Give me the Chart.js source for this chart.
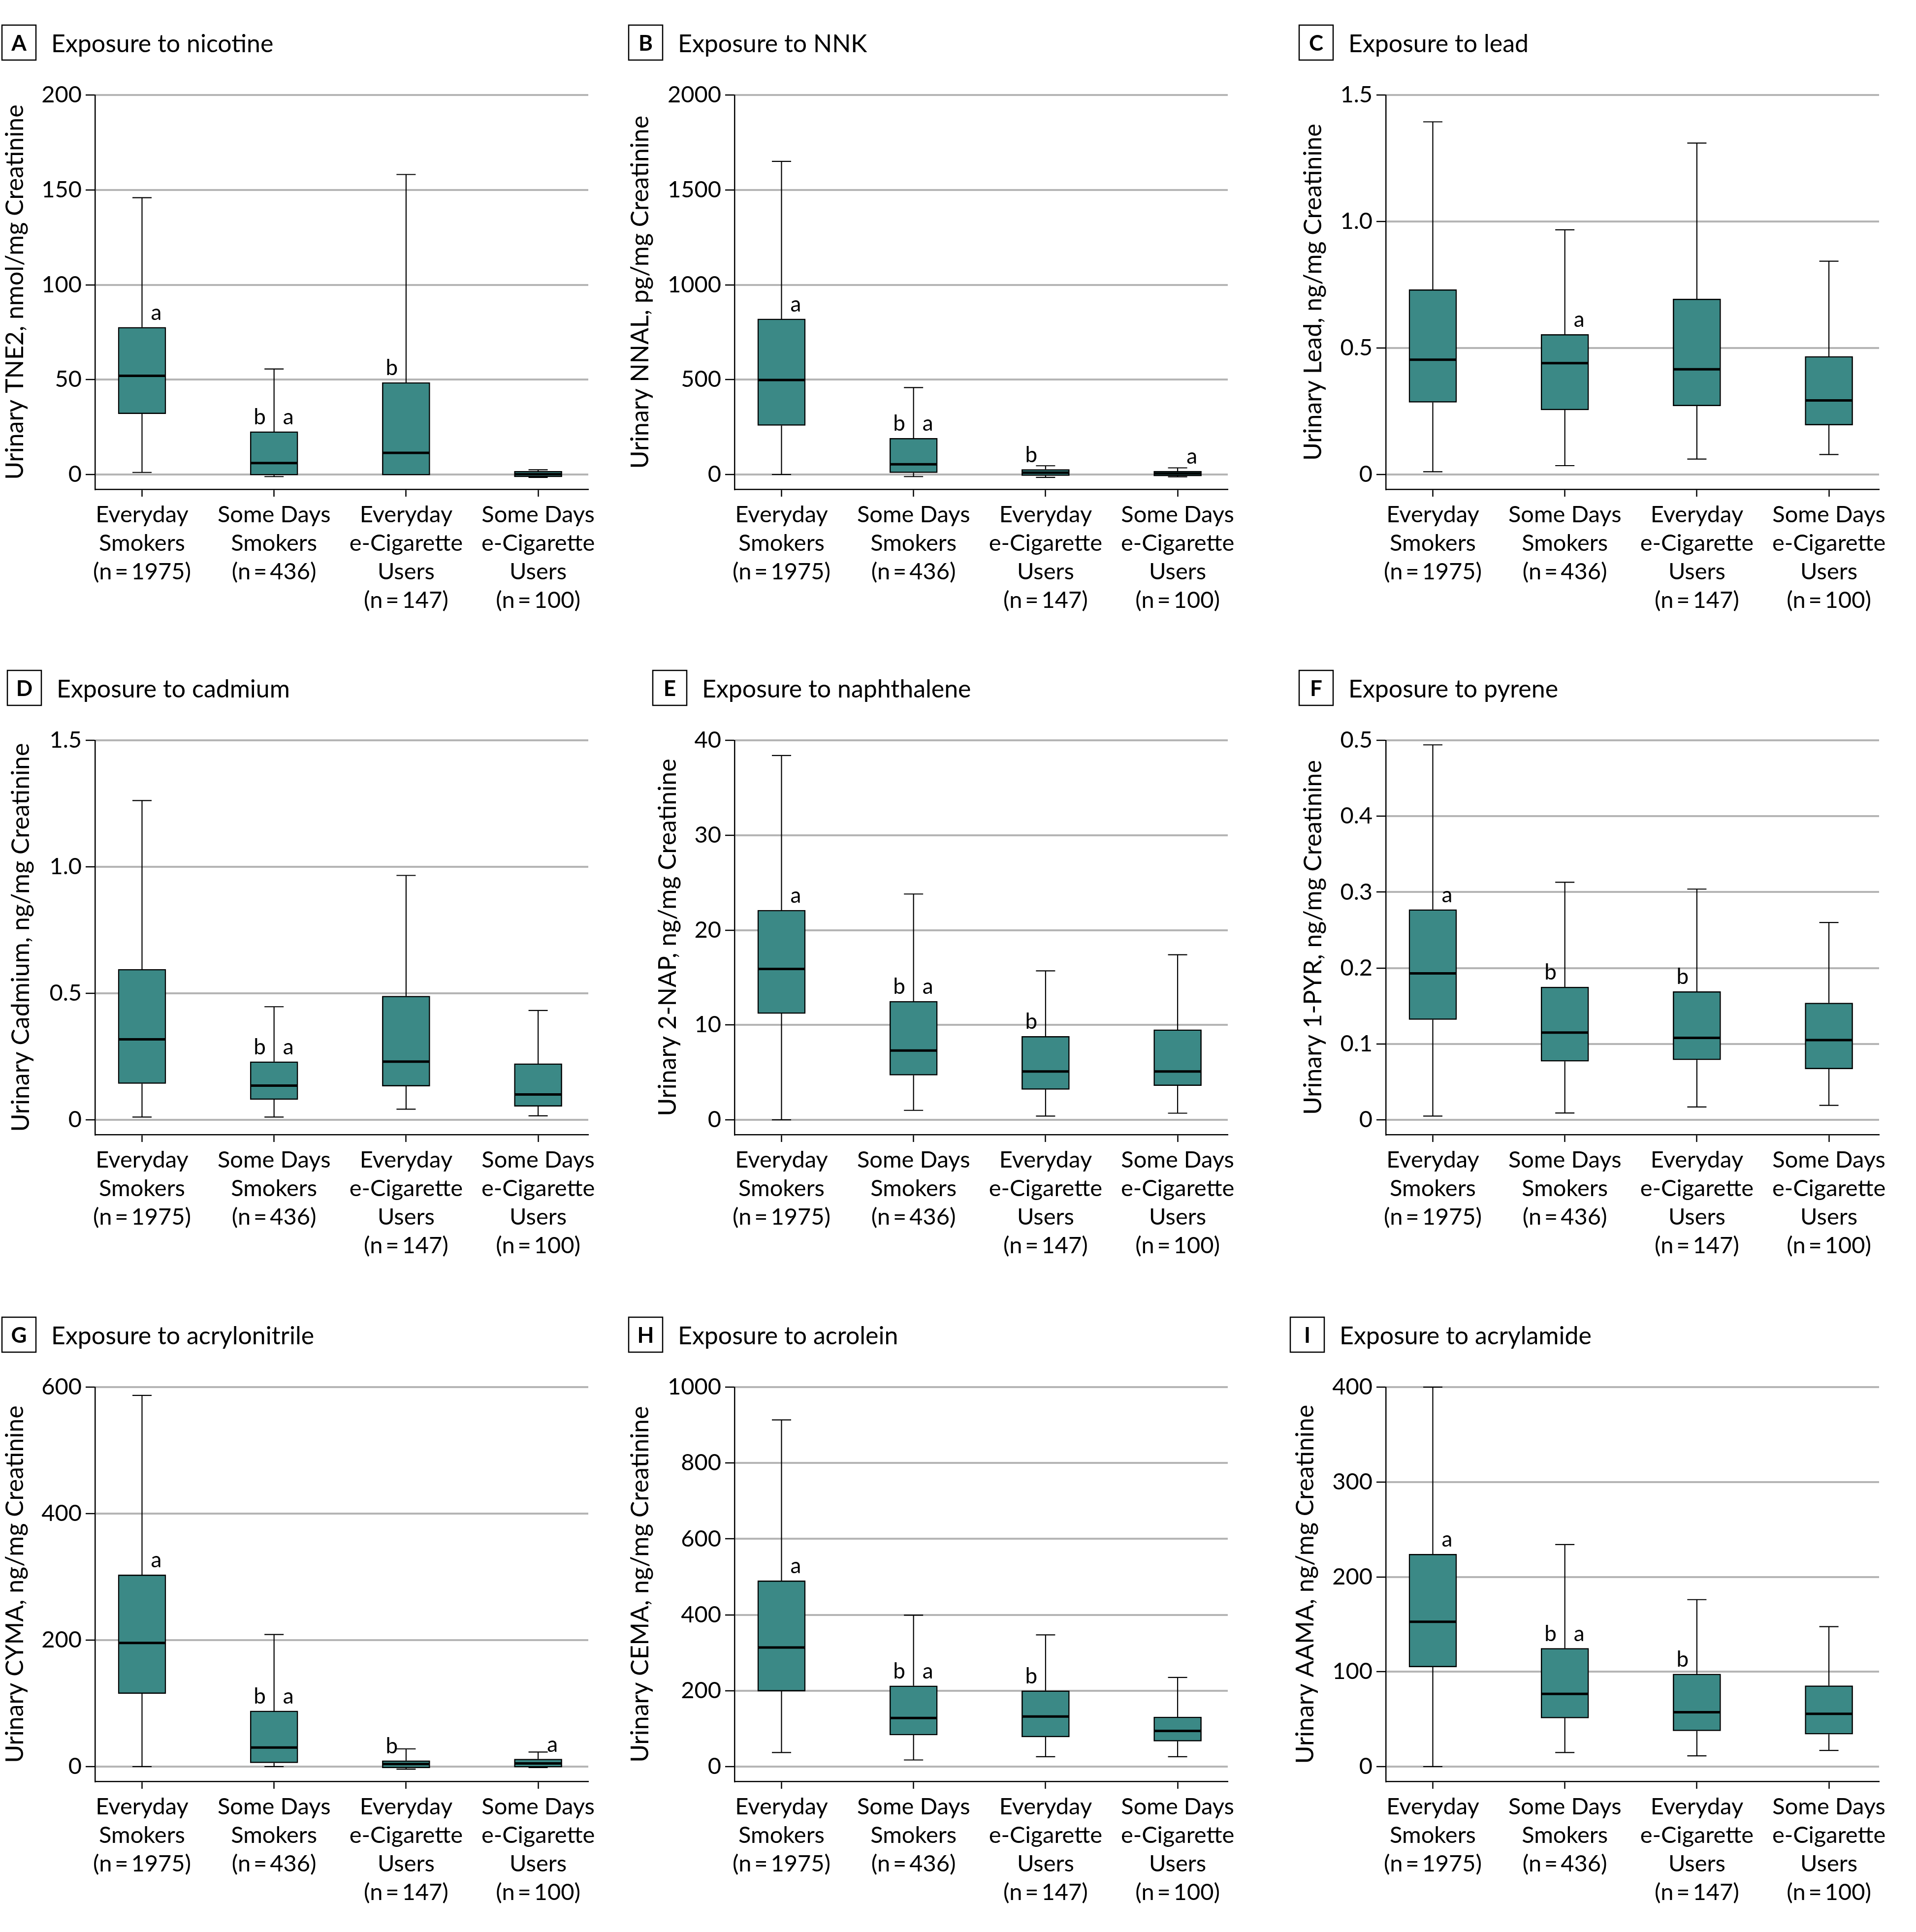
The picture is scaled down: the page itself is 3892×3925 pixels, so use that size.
<!DOCTYPE html>
<html>
<head>
<meta charset="utf-8">
<script src="https://cdn.jsdelivr.net/npm/chart.js@4.4.1/dist/chart.umd.min.js"></script>
<style>
html,body{margin:0;padding:0;background:#fff;}
#wrap{position:relative;width:3892px;height:3925px;background:#fff;overflow:hidden;}
canvas{position:absolute;}
</style>
</head>
<body>
<div id="wrap"></div>
<script>
// ---------- categories (x tick labels) ----------
const categories = [
  ["Everyday", "Smokers", "(n\u2009=\u20091975)"],
  ["Some Days", "Smokers", "(n\u2009=\u2009436)"],
  ["Everyday", "e-Cigarette", "Users", "(n\u2009=\u2009147)"],
  ["Some Days", "e-Cigarette", "Users", "(n\u2009=\u2009100)"]
];

// ---------- A: nicotine (TNE2) ----------
const nicotineMin = [1.1, -1.1, -0.3, -1.5];
const nicotineQ1  = [32, -0.3, -0.3, -1.3];
const nicotineMed = [52, 6, 11.4, 0.1];
const nicotineQ3  = [77.6, 22.6, 48.5, 1.7];
const nicotineMax = [145.9, 55.6, 158.1, 2.5];
const nicotineTicks = [0, 50, 100, 150, 200];
const nicotineTickLabels = ["0", "50", "100", "150", "200"];
const nicotineMarks = [["", "a"], ["b", "a"], ["b", ""], ["", ""]];

// ---------- B: NNK (NNAL) ----------
const nnkMin = [0, -11, -15, -12];
const nnkQ1  = [258, 9, -6, -8];
const nnkMed = [498, 54, 10, 5];
const nnkQ3  = [820, 191, 27, 18];
const nnkMax = [1650, 458, 46, 35];
const nnkTicks = [0, 500, 1000, 1500, 2000];
const nnkTickLabels = ["0", "500", "1000", "1500", "2000"];
const nnkMarks = [["", "a"], ["b", "a"], ["b", ""], ["", "a"]];

// ---------- C: lead ----------
const leadMin = [0.011, 0.035, 0.061, 0.079];
const leadQ1  = [0.285, 0.255, 0.271, 0.195];
const leadMed = [0.454, 0.44, 0.416, 0.293];
const leadQ3  = [0.731, 0.554, 0.694, 0.467];
const leadMax = [1.394, 0.967, 1.31, 0.843];
const leadTicks = [0, 0.5, 1.0, 1.5];
const leadTickLabels = ["0", "0.5", "1.0", "1.5"];
const leadMarks = [["", ""], ["", "a"], ["", ""], ["", ""]];

// ---------- D: cadmium ----------
const cadmiumMin = [0.011, 0.011, 0.042, 0.016];
const cadmiumQ1  = [0.143, 0.080, 0.133, 0.053];
const cadmiumMed = [0.318, 0.135, 0.230, 0.100];
const cadmiumQ3  = [0.595, 0.230, 0.489, 0.222];
const cadmiumMax = [1.262, 0.447, 0.966, 0.432];
const cadmiumTicks = [0, 0.5, 1.0, 1.5];
const cadmiumTickLabels = ["0", "0.5", "1.0", "1.5"];
const cadmiumMarks = [["", ""], ["b", "a"], ["", ""], ["", ""]];

// ---------- E: naphthalene (2-NAP) ----------
const naphMin = [0, 1.0, 0.4, 0.7];
const naphQ1  = [11.2, 4.7, 3.2, 3.6];
const naphMed = [15.9, 7.3, 5.1, 5.1];
const naphQ3  = [22.1, 12.5, 8.8, 9.5];
const naphMax = [38.4, 23.8, 15.7, 17.4];
const naphTicks = [0, 10, 20, 30, 40];
const naphTickLabels = ["0", "10", "20", "30", "40"];
const naphMarks = [["", "a"], ["b", "a"], ["b", ""], ["", ""]];

// ---------- F: pyrene (1-PYR) ----------
const pyreneMin = [0.005, 0.009, 0.017, 0.019];
const pyreneQ1  = [0.132, 0.077, 0.079, 0.067];
const pyreneMed = [0.193, 0.115, 0.108, 0.105];
const pyreneQ3  = [0.277, 0.175, 0.169, 0.154];
const pyreneMax = [0.494, 0.313, 0.304, 0.260];
const pyreneTicks = [0, 0.1, 0.2, 0.3, 0.4, 0.5];
const pyreneTickLabels = ["0", "0.1", "0.2", "0.3", "0.4", "0.5"];
const pyreneMarks = [["", "a"], ["b", ""], ["b", ""], ["", ""]];

// ---------- G: acrylonitrile (CYMA) ----------
const cymaMin = [0, 0, -4, -1.5];
const cymaQ1  = [115.5, 5.9, -2, -1];
const cymaMed = [195.6, 30.2, 4, 5];
const cymaQ3  = [303.3, 88, 9.5, 12];
const cymaMax = [586.9, 208.8, 28, 23];
const cymaTicks = [0, 200, 400, 600];
const cymaTickLabels = ["0", "200", "400", "600"];
const cymaMarks = [["", "a"], ["b", "a"], ["b", ""], ["", "a"]];

// ---------- H: acrolein (CEMA) ----------
const cemaMin = [37, 17.5, 26, 26];
const cemaQ1  = [199, 83, 78, 67];
const cemaMed = [314, 128, 132, 94];
const cemaQ3  = [490, 213, 200, 131];
const cemaMax = [913.6, 399, 347, 235];
const cemaTicks = [0, 200, 400, 600, 800, 1000];
const cemaTickLabels = ["0", "200", "400", "600", "800", "1000"];
const cemaMarks = [["", "a"], ["b", "a"], ["b", ""], ["", ""]];

// ---------- I: acrylamide (AAMA) ----------
const aamaMin = [0, 14.9, 11.4, 17.1];
const aamaQ1  = [105, 51.2, 37.6, 34.1];
const aamaMed = [152.7, 76.6, 57.3, 55.6];
const aamaQ3  = [224, 124.7, 97.6, 85.3];
const aamaMax = [400, 234, 176, 147.5];
const aamaTicks = [0, 100, 200, 300, 400];
const aamaTickLabels = ["0", "100", "200", "300", "400"];
const aamaMarks = [["", "a"], ["b", "a"], ["b", ""], ["", ""]];

// ---------- panel table built from the arrays ----------
const panels = [
  {letter:"A", title:"Exposure to nicotine", yTitle:"Urinary TNE2, nmol/mg Creatinine", min:nicotineMin, q1:nicotineQ1, med:nicotineMed, q3:nicotineQ3, max:nicotineMax, ticks:nicotineTicks, tickLabels:nicotineTickLabels, marks:nicotineMarks},
  {letter:"B", title:"Exposure to NNK", yTitle:"Urinary NNAL, pg/mg Creatinine", min:nnkMin, q1:nnkQ1, med:nnkMed, q3:nnkQ3, max:nnkMax, ticks:nnkTicks, tickLabels:nnkTickLabels, marks:nnkMarks},
  {letter:"C", title:"Exposure to lead", yTitle:"Urinary Lead, ng/mg Creatinine", min:leadMin, q1:leadQ1, med:leadMed, q3:leadQ3, max:leadMax, ticks:leadTicks, tickLabels:leadTickLabels, marks:leadMarks},
  {letter:"D", title:"Exposure to cadmium", yTitle:"Urinary Cadmium, ng/mg Creatinine", min:cadmiumMin, q1:cadmiumQ1, med:cadmiumMed, q3:cadmiumQ3, max:cadmiumMax, ticks:cadmiumTicks, tickLabels:cadmiumTickLabels, marks:cadmiumMarks},
  {letter:"E", title:"Exposure to naphthalene", yTitle:"Urinary 2-NAP, ng/mg Creatinine", min:naphMin, q1:naphQ1, med:naphMed, q3:naphQ3, max:naphMax, ticks:naphTicks, tickLabels:naphTickLabels, marks:naphMarks},
  {letter:"F", title:"Exposure to pyrene", yTitle:"Urinary 1-PYR, ng/mg Creatinine", min:pyreneMin, q1:pyreneQ1, med:pyreneMed, q3:pyreneQ3, max:pyreneMax, ticks:pyreneTicks, tickLabels:pyreneTickLabels, marks:pyreneMarks},
  {letter:"G", title:"Exposure to acrylonitrile", yTitle:"Urinary CYMA, ng/mg Creatinine", min:cymaMin, q1:cymaQ1, med:cymaMed, q3:cymaQ3, max:cymaMax, ticks:cymaTicks, tickLabels:cymaTickLabels, marks:cymaMarks},
  {letter:"H", title:"Exposure to acrolein", yTitle:"Urinary CEMA, ng/mg Creatinine", min:cemaMin, q1:cemaQ1, med:cemaMed, q3:cemaQ3, max:cemaMax, ticks:cemaTicks, tickLabels:cemaTickLabels, marks:cemaMarks},
  {letter:"I", title:"Exposure to acrylamide", yTitle:"Urinary AAMA, ng/mg Creatinine", min:aamaMin, q1:aamaQ1, med:aamaMed, q3:aamaQ3, max:aamaMax, ticks:aamaTicks, tickLabels:aamaTickLabels, marks:aamaMarks}
];

// ---------- layout (pixels) ----------
const rowPlotTop = [193, 1504, 2818];
const colAxisX = [193, 1492, 2815];
const colCanvasLeft = [0, 1260, 2590];
const panelBoxLeft = [4, 1277, 2639, 15, 1326, 2639, 4, 1277, 2621];
const panelYTitleX = [31, 1301, 2668, 43, 1357, 2668, 31, 1301, 2652];
const PLOT_W = 1002, PLOT_H = 801, ZERO_GAP = 30, TOP_PAD = 193, RIGHT_PAD = 60, XAXIS_H = 270, BOTTOM_PAD = 10;
const TEAL = "#3b8986";
const FONT = "Lato, 'Open Sans', 'DejaVu Sans', sans-serif";

Chart.defaults.font.family = FONT;
Chart.defaults.color = "#000";

function extrasPlugin(p, idx, canvasLeft) {
  return {
    id: "boxExtras" + idx,
    afterDatasetsDraw(chart) {
      const {ctx} = chart;
      const x = chart.scales.x, y = chart.scales.y;
      const boxW = 97, capW = 39;
      ctx.save();
      ctx.strokeStyle = "#000";
      ctx.lineCap = "butt";
      for (let i = 0; i < p.med.length; i++) {
        const cx = x.getPixelForValue(i);
        const yMin = y.getPixelForValue(p.min[i]);
        const yQ1 = y.getPixelForValue(p.q1[i]);
        const yMed = y.getPixelForValue(p.med[i]);
        const yQ3 = y.getPixelForValue(p.q3[i]);
        const yMax = y.getPixelForValue(p.max[i]);
        ctx.lineWidth = 2.2;
        ctx.beginPath();
        if (yMax < yQ3 - 0.5) {
          ctx.moveTo(cx, yQ3); ctx.lineTo(cx, yMax);
          ctx.moveTo(cx - capW / 2, yMax); ctx.lineTo(cx + capW / 2, yMax);
        }
        if (yMin > yQ1 + 0.5) {
          ctx.moveTo(cx, yQ1); ctx.lineTo(cx, yMin);
          ctx.moveTo(cx - capW / 2, yMin); ctx.lineTo(cx + capW / 2, yMin);
        }
        ctx.stroke();
        ctx.lineWidth = 5;
        ctx.beginPath();
        ctx.moveTo(cx - boxW / 2 + 1, yMed); ctx.lineTo(cx + boxW / 2 - 1, yMed);
        ctx.stroke();
        // significance letters
        ctx.fillStyle = "#000";
        ctx.font = "44px " + FONT;
        ctx.textAlign = "center";
        ctx.textBaseline = "alphabetic";
        const [lt, rt] = p.marks[i];
        if (lt) ctx.fillText(lt, cx - 29, yQ3 - 15);
        if (rt) ctx.fillText(rt, cx + 29, yQ3 - 15);
      }
      ctx.restore();
    },
    afterDraw(chart) {
      const {ctx} = chart;
      ctx.save();
      const bx = panelBoxLeft[idx] - canvasLeft;
      const cy = TOP_PAD - 106.5;
      ctx.strokeStyle = "#000";
      ctx.lineWidth = 2.5;
      ctx.strokeRect(bx, cy - 35.5, 69, 71);
      ctx.fillStyle = "#000";
      ctx.font = "bold 44px " + FONT;
      ctx.textAlign = "center";
      ctx.textBaseline = "alphabetic";
      ctx.fillText(p.letter, bx + 34.5, cy + 16);
      ctx.font = "50px " + FONT;
      ctx.textAlign = "left";
      ctx.fillText(p.title, bx + 69 + 31, cy + 19);
      ctx.restore();
    }
  };
}

const wrap = document.getElementById("wrap");
panels.forEach((p, idx) => {
  const r = Math.floor(idx / 3), c = idx % 3;
  const canvasLeft = colCanvasLeft[c];
  const canvasTop = rowPlotTop[r] - TOP_PAD;
  const axisW = colAxisX[c] - canvasLeft;
  const cw = axisW + PLOT_W + RIGHT_PAD;
  const ch = TOP_PAD + PLOT_H + XAXIS_H + BOTTOM_PAD;
  const cv = document.createElement("canvas");
  cv.width = cw; cv.height = ch;
  cv.style.left = canvasLeft + "px"; cv.style.top = canvasTop + "px";
  cv.style.width = cw + "px"; cv.style.height = ch + "px";
  wrap.appendChild(cv);

  const yMax = p.ticks[p.ticks.length - 1];
  const yMin = -yMax * ZERO_GAP / (PLOT_H - ZERO_GAP);
  const titleLH = 60;
  const titlePad = Math.max(0, panelYTitleX[idx] - canvasLeft - titleLH / 2);

  new Chart(cv, {
    type: "bar",
    data: {
      datasets: [{
        data: p.q1.map((v, i) => ({x: i, y: [v, p.q3[i]]})),
        backgroundColor: TEAL,
        borderColor: "#000",
        borderWidth: 2.5,
        borderSkipped: false,
        barThickness: 97
      }]
    },
    options: {
      responsive: false,
      animation: false,
      devicePixelRatio: 1,
      layout: {padding: {top: TOP_PAD, right: RIGHT_PAD, bottom: BOTTOM_PAD, left: 0}},
      plugins: {legend: {display: false}, tooltip: {enabled: false}},
      scales: {
        x: {
          type: "linear",
          min: -0.356, max: 3.38,
          offset: false,
          grid: {display: true, drawOnChartArea: false, drawTicks: true, tickLength: 15, tickColor: "#000", tickWidth: 2.5, offset: false},
          border: {display: true, color: "#000", width: 2.5},
          ticks: {autoSkip: false, maxRotation: 0, minRotation: 0, padding: 8, color: "#000",
                  font: {size: 47, lineHeight: 1.234},
                  callback: (v) => categories[Math.round(v)]},
          afterBuildTicks: (s) => { s.ticks = categories.map((_, i) => ({value: i})); },
          afterFit: (s) => { s.height = XAXIS_H; }
        },
        y: {
          type: "linear",
          min: yMin, max: yMax,
          grid: {color: "#b5b5b5", lineWidth: 4, drawTicks: true, tickLength: 19, tickColor: "#000", tickWidth: 2.5},
          border: {display: true, color: "#000", width: 2.5},
          ticks: {padding: 8, color: "#000", font: {size: 47},
                  callback: (v) => { const k = p.ticks.findIndex(t => Math.abs(t - v) < 1e-9); return k >= 0 ? p.tickLabels[k] : ""; }},
          afterBuildTicks: (s) => { s.ticks = p.ticks.map(v => ({value: v})); },
          afterFit: (s) => { s.width = axisW; },
          title: {display: true, text: p.yTitle, color: "#000", font: {size: 50, lineHeight: 1.2}, padding: {top: titlePad, bottom: 0}}
        }
      }
    },
    plugins: [extrasPlugin(p, idx, canvasLeft)]
  });
});
</script>
</body>
</html>
